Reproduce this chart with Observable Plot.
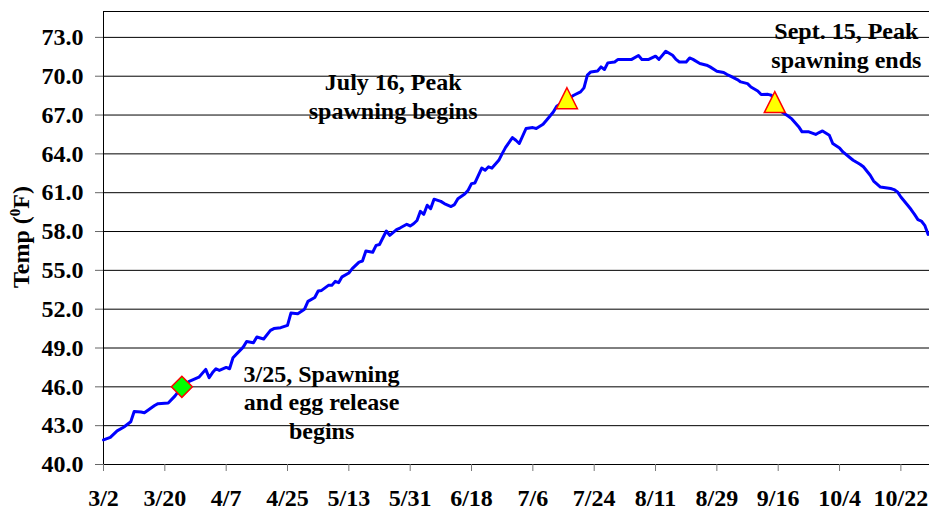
<!DOCTYPE html>
<html><head><meta charset="utf-8">
<script src="https://cdn.jsdelivr.net/npm/d3@7"></script>
<script src="https://cdn.jsdelivr.net/npm/@observablehq/plot@0.6"></script>
<style>body{margin:0;background:#fff} svg{display:block}</style>
</head><body><div id="chart"></div>
<script>
// Daily water temperature readings (°F)
const dates = ["3/2","3/4","3/6","3/8","3/10","3/11","3/13","3/14","3/17","3/18","3/21","3/23","3/25","3/27","3/30",
"4/1","4/2","4/3","4/4","4/5","4/7","4/8","4/9","4/11","4/12","4/13","4/15","4/16","4/18","4/20","4/21","4/23","4/25","4/26","4/28","4/30",
"5/1","5/3","5/4","5/5","5/7","5/8","5/9","5/10","5/11","5/13","5/14","5/16","5/17","5/18","5/20","5/21","5/22","5/24","5/25","5/27","5/28","5/30","5/31",
"6/1","6/2","6/3","6/4","6/5","6/6","6/7","6/9","6/10","6/12","6/13","6/14","6/16","6/17","6/18","6/19","6/21","6/22","6/23","6/24","6/26","6/27","6/28","6/30",
"7/1","7/2","7/4","7/6","7/7","7/9","7/10","7/12","7/13","7/16","7/18","7/20","7/21","7/22","7/23","7/25","7/26","7/27","7/28","7/30","7/31",
"8/2","8/4","8/6","8/7","8/9","8/11","8/12","8/14","8/16","8/17","8/18","8/20","8/21","8/22","8/24","8/26","8/27","8/29","8/31",
"9/1","9/2","9/4","9/5","9/7","9/8","9/10","9/11","9/13","9/14","9/15","9/17","9/19","9/20","9/22","9/23","9/25","9/26","9/27","9/28","9/29",
"10/1","10/2","10/4","10/5","10/7","10/8","10/10","10/11","10/13","10/14","10/16","10/17","10/19","10/20","10/21","10/22","10/24","10/25","10/26","10/27","10/28","10/29","10/30"];
const temps = [41.9,42.1,42.6,42.9,43.3,44.1,44.05,44.0,44.56,44.7,44.75,45.3,46.0,46.4,46.75,
47.35,46.7,47.1,47.4,47.27,47.5,47.4,48.25,48.8,49.07,49.5,49.4,49.85,49.7,50.36,50.5,50.57,50.75,51.7,51.65,52.0,
52.6,52.9,53.4,53.45,53.84,53.84,54.15,54.05,54.5,54.8,55.13,55.64,55.72,56.5,56.4,56.93,57.0,58.04,57.7,58.15,58.27,58.56,58.43,
58.6,58.85,59.56,59.33,60.03,59.77,60.5,60.33,60.16,59.93,60.08,60.54,60.9,61.19,61.7,61.75,62.9,62.73,63.0,62.9,63.5,64.02,64.5,65.26,
65.05,64.8,65.96,66.03,65.96,66.29,66.6,67.24,67.68,68.2,68.53,68.79,69.1,70.08,70.33,70.41,70.72,70.52,71.03,71.1,71.3,
71.3,71.3,71.6,71.3,71.3,71.55,71.3,71.93,71.62,71.3,71.1,71.1,71.41,71.3,70.98,70.85,70.72,70.39,70.29,
70.13,70.0,69.74,69.56,69.43,69.17,68.86,68.58,68.6,68.53,68.0,67.25,66.9,66.7,66.1,65.7,65.7,65.6,65.5,65.65,65.77,
65.44,64.8,64.46,64.15,63.72,63.51,63.2,63.0,62.35,61.9,61.44,61.4,61.32,61.24,61.06,60.67,60.03,59.7,59.33,58.92,58.81,58.48,57.78];

// Spawning events
const eventDates = ["3/25","7/16","9/15"];
const eventTemps = [46.0, 68.3, 68.0];
const eventKinds = ["start","peak","peak"];
const annotations = ["3/25, Spawning\nand egg release\nbegins","July 16, Peak\nspawning begins","Sept. 15, Peak\nspawning ends"];

// Axis ticks
const xTickLabels = ["3/2","3/20","4/7","4/25","5/13","5/31","6/18","7/6","7/24","8/11","8/29","9/16","10/4","10/22"];
const yTicks = [40,43,46,49,52,55,58,61,64,67,70,73];

const YEAR = 2005;
const parse = s => { const [m, d] = s.split("/").map(Number); return new Date(Date.UTC(YEAR, m - 1, d)); };

const series = dates.map((d, i) => ({date: parse(d), temp: temps[i]}));
const events = eventDates.map((d, i) => ({date: parse(d), temp: eventTemps[i], kind: eventKinds[i]}));
const notes = [
  {date: parse("5/5"), temp: 44.9, text: annotations[0]},
  {date: parse("5/26"), temp: 68.52, text: annotations[1]},
  {date: parse("10/6"), temp: 72.44, text: annotations[2]}
];

const triangleSym = {draw(ctx, size) { const r = Math.sqrt(size / Math.PI); ctx.moveTo(0, -r); ctx.lineTo(r, r); ctx.lineTo(-r, r); ctx.closePath(); }};
const diamondSym = {draw(ctx, size) { const r = Math.sqrt(size / Math.PI); ctx.moveTo(0, -r); ctx.lineTo(r, 0); ctx.lineTo(0, r); ctx.lineTo(-r, 0); ctx.closePath(); }};

const FONT = "'Liberation Serif', 'Times New Roman', serif";
const start = parse("3/2");
const xDomain = [start, new Date(start.getTime() + 242.4 * 864e5)];

const chart = Plot.plot({
  width: 929, height: 510,
  marginLeft: 103, marginRight: 0, marginTop: 11, marginBottom: 46,
  x: {type: "utc", domain: xDomain},
  y: {domain: [40, 75]},
  style: {fontFamily: FONT, fontSize: "24px", fontWeight: "bold", background: "#fff", color: "#000"},
  marks: [
    Plot.ruleY(yTicks.slice(1), {stroke: "#000", strokeWidth: 1}),
    Plot.frame({stroke: "#000", strokeWidth: 1}),
    Plot.axisY(yTicks, {tickSize: 8, tickPadding: 12, stroke: "#666", tickFormat: d => d.toFixed(1), label: null, fontSize: 24, fontWeight: "bold", fontFamily: FONT}),
    Plot.axisX(xTickLabels.map(parse), {tickSize: 7, tickPadding: 17, stroke: "#777", tickFormat: d3.utcFormat("%-m/%-d"), label: null, fontSize: 24, fontWeight: "bold", fontFamily: FONT}),
    Plot.line(series, {x: "date", y: "temp", stroke: "#0000FF", strokeWidth: 3, strokeLinejoin: "round"}),
    Plot.dot(events.filter(d => d.kind === "start"), {x: "date", y: "temp", symbol: diamondSym, r: 10.5, fill: "#00FF00", stroke: "#FF0000", strokeWidth: 1.5}),
    Plot.dot(events.filter(d => d.kind === "peak"), {x: "date", y: "temp", symbol: triangleSym, r: 10.5, fill: "#FFFF00", stroke: "#FF0000", strokeWidth: 1.5}),
    Plot.text(notes, {x: "date", y: "temp", text: "text", lineHeight: 1.2, fontSize: 24, fontWeight: "bold", fontFamily: FONT, fill: "#000"})
  ]
});

document.getElementById("chart").appendChild(chart);

const t = d3.select(chart).append("text")
  .attr("transform", "translate(28.5,237) rotate(-90)")
  .attr("text-anchor", "middle")
  .attr("font-family", FONT).attr("font-size", 24).attr("font-weight", "bold").attr("fill", "#000");
t.append("tspan").text("Temp (");
t.append("tspan").attr("font-size", 15).attr("dy", -9).text("0");
t.append("tspan").attr("dy", 9).text("F)");
</script>
</body></html>
